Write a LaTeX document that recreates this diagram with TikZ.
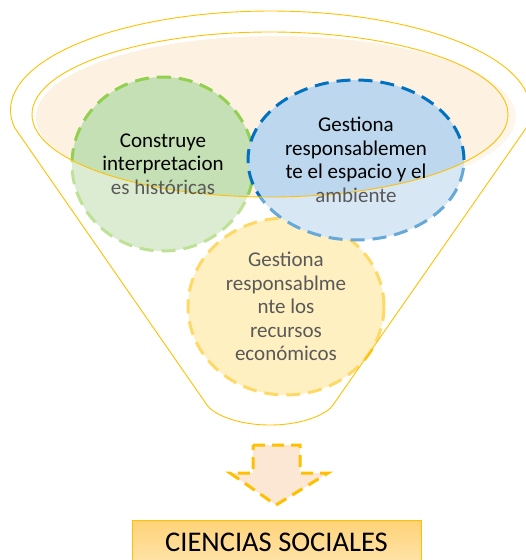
\documentclass[tikz,border=0pt]{standalone}
\usepackage{fontspec}
\setmainfont{Carlito}
\usetikzlibrary{shapes.geometric}

\definecolor{funnelline}{RGB}{255,192,0}
\definecolor{peach}{RGB}{253,241,226}
\definecolor{greenfill}{RGB}{197,224,180}
\definecolor{greenline}{RGB}{146,208,80}
\definecolor{bluefill}{RGB}{189,215,238}
\definecolor{blueline}{RGB}{0,112,192}
\definecolor{yellowfill}{RGB}{255,230,153}
\definecolor{yellowline}{RGB}{255,192,0}
\definecolor{textgray}{RGB}{89,89,89}
\definecolor{arrowfill}{RGB}{252,231,212}

\tikzset{
  bubble/.style={ellipse, inner sep=0pt, line width=3pt, dash pattern=on 14pt off 8pt},
  bubbletext/.style={align=center, font=\fontsize{21}{23.5}\selectfont},
}

\begin{document}
\begin{tikzpicture}[x=1pt, y=-1pt]
\useasboundingbox (0,0) rectangle (526,560);

% top of the funnel
\fill[peach] (276,117) ellipse [x radius=240, y radius=81];

% circles
\node[bubble, fill=yellowfill, draw=yellowline, minimum width=196pt, minimum height=177pt] (eco) at (286,306.5) {};
\node[bubble, fill=greenfill, draw=greenline, minimum width=182pt, minimum height=174pt] (hist) at (163,164) {};
\node[bubble, fill=bluefill, draw=blueline, minimum width=216pt, minimum height=160pt] (amb) at (356,160) {};

% body of the funnel
\fill[white, opacity=0.4, even odd rule]
  plot[domain=169.5:370.5, samples=80] ({270.5+260*cos(\x)}, {110+99*sin(\x)})
  -- (333,405) .. controls (328,413) and (305,425) .. (270,425)
  .. controls (235,425) and (212,413) .. (207,405) -- cycle
  (270,114.5) ellipse [x radius=238, y radius=82.5];
\draw[funnelline, line width=0.9pt] (270,114.5) ellipse [x radius=238, y radius=82.5];
\draw[funnelline, line width=0.9pt, line join=round]
  plot[domain=169.5:370.5, samples=80] ({270.5+260*cos(\x)}, {110+99*sin(\x)})
  -- (333,405) .. controls (328,413) and (305,425) .. (270,425)
  .. controls (235,425) and (212,413) .. (207,405) -- cycle;

% texts
\node[bubbletext] (histtext) at (hist.center)
  {Construye\\interpretacion\\\textcolor{textgray}{es históricas}};
\node[bubbletext] (ambtext) at (amb.center)
  {Gestiona\\responsablemen\\te el espacio y el\\\textcolor{textgray}{ambiente}};
\node[bubbletext, text=textgray] (ecotext) at (eco.center)
  {Gestiona\\responsablme\\nte los\\recursos\\económicos};

% arrow
\draw[yellowline, fill=arrowfill, line width=3pt, dash pattern=on 12pt off 7pt]
  (253,445) -- (300,445) -- (300,473) -- (328,473) -- (276,505)
  -- (230,473) -- (253,473) -- cycle;

% result
\node[draw=funnelline, line width=0.8pt, top color={rgb,255:red,255;green,210;blue,120},
  bottom color={rgb,255:red,255;green,228;blue,170}, minimum width=289pt,
  minimum height=44pt, font=\fontsize{28.5}{30}\selectfont] (soc) at (276.5,542) {CIENCIAS SOCIALES};
\end{tikzpicture}
\end{document}
